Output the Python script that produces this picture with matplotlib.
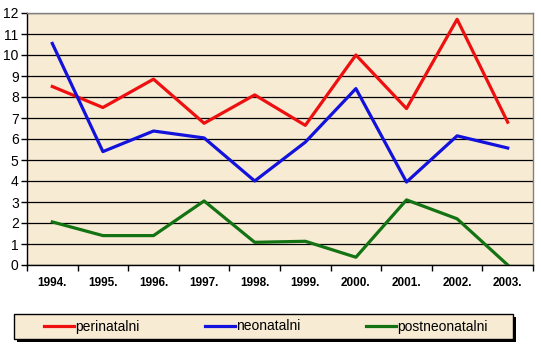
import numpy as np
import matplotlib.pyplot as plt
from matplotlib.patches import Rectangle

# data
years = ['1994.', '1995.', '1996.', '1997.', '1998.', '1999.', '2000.', '2001.', '2002.', '2003.']
perinatalni = [8.5, 7.5, 8.85, 6.75, 8.1, 6.65, 10.0, 7.45, 11.7, 6.8]
neonatalni = [10.55, 5.4, 6.38, 6.05, 4.0, 5.85, 8.4, 3.95, 6.15, 5.57]
postneonatalni = [2.05, 1.4, 1.4, 3.05, 1.08, 1.13, 0.37, 3.1, 2.2, 0.0]

plt.rcParams['font.family'] = ['Liberation Sans', 'DejaVu Sans']

W, H = 541, 348
bg = '#f8ebd3'
fig = plt.figure(figsize=(W / 100, H / 100), dpi=100)
fig.patch.set_facecolor('white')

ax = fig.add_axes([27 / W, (H - 265) / H, 506 / W, 252 / H])
ax.set_facecolor(bg)

x = np.arange(len(years))
lw = 2.3
l1, = ax.plot(x, perinatalni, color='#ee1010', lw=lw, label='perinatalni', zorder=3)
l2, = ax.plot(x, neonatalni, color='#1212dc', lw=lw, label='neonatalni', zorder=3)
l3, = ax.plot(x, postneonatalni, color='#137313', lw=lw, label='postneonatalni', zorder=3)

ax.set_xlim(-0.5, len(years) - 0.5)
ax.set_ylim(0, 12)
ax.set_yticks(range(0, 13))
ax.yaxis.grid(True, color='black', lw=0.9)
ax.set_axisbelow(True)

# category labels centered, tick marks between categories
ax.set_xticks(np.arange(-0.5, len(years)), minor=False)
ax.set_xticklabels([])
ax.set_xticks(x, minor=True)
ax.set_xticklabels(years, minor=True, fontweight='bold', fontsize=8.5)
ax.tick_params(axis='x', which='minor', length=0, pad=9)
ax.tick_params(axis='x', which='major', length=4, width=1, color='black')
ax.tick_params(axis='y', length=4, width=1, labelsize=10, pad=2)

for s in ['top', 'right']:
    ax.spines[s].set_color('#808080')
    ax.spines[s].set_linewidth(1)
for s in ['left', 'bottom']:
    ax.spines[s].set_color('black')
    ax.spines[s].set_linewidth(1)

# legend box with a hard black shadow
bx, by, bw, bh = 14, 314, 499, 25
fig.add_artist(Rectangle(((bx + 3) / W, (H - by - bh - 3) / H), bw / W, bh / H,
                         transform=fig.transFigure, facecolor='black', edgecolor='none'))
fig.add_artist(Rectangle((bx / W, (H - by - bh) / H), bw / W, bh / H,
                         transform=fig.transFigure, facecolor=bg, edgecolor='black', lw=1))

fig.legend(handles=[l1, l2, l3], loc='center', ncol=3,
           bbox_to_anchor=(266 / W, (H - by - bh / 2) / H),
           frameon=False, fontsize=10, handlelength=2.15, handletextpad=0.1,
           columnspacing=4.7, borderpad=0, borderaxespad=0)

fig.savefig('out.png', dpi=100)
